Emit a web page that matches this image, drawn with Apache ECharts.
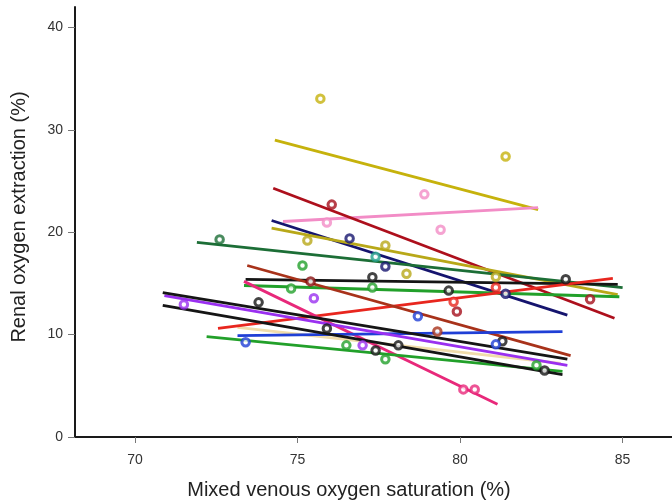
<!DOCTYPE html>
<html>
<head>
<meta charset="utf-8">
<script src="https://cdn.jsdelivr.net/npm/echarts@6/dist/echarts.min.js"></script>
<style>
  html, body { margin: 0; padding: 0; background: #fff; }
  #chart { width: 672px; height: 503px; }
</style>
</head>
<body>
<div id="chart"></div>
<script>
// tick labels
const xTicks = [70, 75, 80, 85];
const yTicks = [0, 10, 20, 30, 40];

// fitted lines (start, end) per subject
const goldFit = [[74.3, 29.0], [82.4, 22.2]];
const pinkFit = [[74.55, 21.05], [82.4, 22.4]];
const crimsonFit = [[74.25, 24.3], [84.75, 11.6]];
const navyFit = [[74.2, 21.15], [83.3, 11.9]];
const oliveFit = [[74.2, 20.4], [84.85, 13.9]];
const darkGreenFit = [[71.9, 19.0], [85.0, 14.6]];
const blackFit = [[73.4, 15.4], [84.85, 14.9]];
const greenFit = [[73.35, 14.8], [84.9, 13.7]];
const redFit = [[72.55, 10.6], [84.7, 15.5]];
const brownFit = [[73.45, 16.75], [83.4, 7.95]];
const magentaFit = [[73.35, 15.2], [81.15, 3.2]];
const blackUpperFit = [[70.85, 14.1], [83.3, 7.6]];
const purpleFit = [[70.9, 13.8], [83.3, 7.0]];
const blackLowerFit = [[70.85, 12.85], [83.15, 6.1]];
const greenLowerFit = [[72.2, 9.8], [83.15, 6.4]];
const blueFit = [[73.15, 9.9], [83.15, 10.3]];
const beigeFit = [[73.15, 10.7], [83.1, 7.2]];

// measured points
const goldPts = [[75.7, 33.05], [81.4, 27.4]];
const pinkPts = [[78.9, 23.7], [79.4, 20.25], [75.9, 20.95]];
const crimsonPts = [[76.05, 22.7], [84.0, 13.45], [79.9, 12.25]];
const darkGreenPts = [[72.6, 19.3]];
const olivePts = [[75.3, 19.2], [77.7, 18.7], [78.35, 15.95], [81.1, 15.65]];
const navyPts = [[76.6, 19.4], [77.7, 16.65], [81.4, 14.0]];
const tealPts = [[77.4, 17.6]];
const greenPts = [[75.15, 16.75], [77.3, 14.6], [74.8, 14.5], [76.5, 8.95], [77.7, 7.6], [82.35, 7.0]];
const blackPts = [[77.3, 15.6], [79.65, 14.3], [83.25, 15.4], [73.8, 13.15], [75.9, 10.6],
                  [77.4, 8.45], [78.1, 8.95], [81.3, 9.35], [82.6, 6.5]];
const darkRedPts = [[75.4, 15.2]];
const redPts = [[81.1, 14.6], [79.8, 13.2]];
const bluePts = [[78.7, 11.8], [73.4, 9.25], [81.1, 9.05]];
const brownPts = [[79.3, 10.3]];
const purplePts = [[75.5, 13.55], [71.5, 12.95], [77.0, 8.95]];
const magentaPts = [[80.1, 4.65], [80.45, 4.65]];

const fits = [
  [beigeFit, '#f0dcaa'],
  [goldFit, '#c6b20c'],
  [pinkFit, '#f28cc6'],
  [crimsonFit, '#ad0f1c'],
  [navyFit, '#15146e'],
  [oliveFit, '#b8a818'],
  [darkGreenFit, '#1c6e36'],
  [blackFit, '#151515'],
  [greenFit, '#22a02a'],
  [redFit, '#e8261e'],
  [brownFit, '#a8321a'],
  [magentaFit, '#e8287a'],
  [greenLowerFit, '#22a02a'],
  [blueFit, '#1f3fd6'],
  [purpleFit, '#9a30f0'],
  [blackUpperFit, '#151515'],
  [blackLowerFit, '#151515']
];

const dots = [
  [goldPts, '#c6b20c'],
  [pinkPts, '#f28cc6'],
  [crimsonPts, '#a50f1c'],
  [darkGreenPts, '#1c6e36'],
  [olivePts, '#b8a818'],
  [navyPts, '#15146e'],
  [tealPts, '#20a08a'],
  [greenPts, '#22a02a'],
  [blackPts, '#151515'],
  [darkRedPts, '#8a1010'],
  [redPts, '#e8261e'],
  [bluePts, '#1f3fd6'],
  [brownPts, '#a8321a'],
  [purplePts, '#9a30f0'],
  [magentaPts, '#e8287a']
];

const series = [];
fits.forEach(function (f) {
  series.push({
    type: 'line',
    data: f[0],
    symbol: 'none',
    silent: true,
    lineStyle: { color: f[1], width: 2.8 },
    z: 2
  });
});
dots.forEach(function (d) {
  series.push({
    type: 'scatter',
    data: d[0],
    symbol: 'circle',
    symbolSize: 7.5,
    itemStyle: { color: '#fff', borderColor: d[1], borderWidth: 3 },
    z: 3
  });
});

const chart = echarts.init(document.getElementById('chart'));
chart.setOption({
  animation: false,
  backgroundColor: '#fff',
  textStyle: { fontFamily: 'Liberation Sans' },
  grid: { left: 75, right: 0, top: 7, bottom: 66 },
  xAxis: {
    type: 'value',
    min: 68.15,
    max: 86.52,
    splitLine: { show: false },
    axisLine: { lineStyle: { color: '#1a1a1a', width: 2 } },
    axisTick: { length: 6, lineStyle: { color: '#777' }, customValues: xTicks },
    axisLabel: { color: '#333', fontSize: 14, margin: 16, customValues: xTicks }
  },
  yAxis: {
    type: 'value',
    min: 0,
    max: 42,
    splitLine: { show: false },
    axisLine: { show: true, lineStyle: { color: '#1a1a1a', width: 2 } },
    axisTick: { show: true, length: 7, lineStyle: { color: '#777' }, customValues: yTicks },
    axisLabel: { color: '#333', fontSize: 14, margin: 12, customValues: yTicks }
  },
  graphic: [
    {
      type: 'text', x: 349, y: 490,
      style: { text: 'Mixed venous oxygen saturation (%)', fontSize: 20, fill: '#222', fontFamily: 'Liberation Sans', align: 'center', verticalAlign: 'middle' }
    },
    {
      type: 'text', x: 19, y: 217, rotation: Math.PI / 2,
      style: { text: 'Renal oxygen extraction (%)', fontSize: 20, fill: '#222', fontFamily: 'Liberation Sans', align: 'center', verticalAlign: 'middle' }
    }
  ],
  series: series
});
</script>
</body>
</html>
